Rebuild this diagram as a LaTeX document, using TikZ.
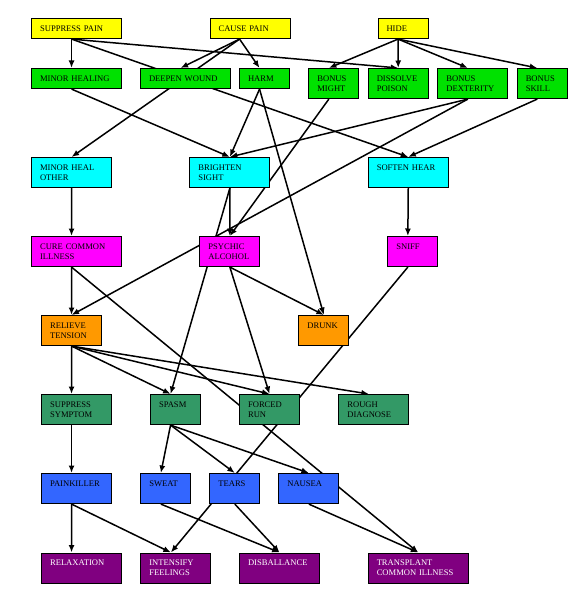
\documentclass[tikz,border=0pt]{standalone}
\usepackage{fontspec}
\setmainfont{Liberation Serif}
\usetikzlibrary{arrows.meta, backgrounds}

\definecolor{yellowbox}{RGB}{255,255,0}
\definecolor{greenbox}{RGB}{0,225,0}
\definecolor{cyanbox}{RGB}{0,255,255}
\definecolor{magentabox}{RGB}{255,0,255}
\definecolor{orangebox}{RGB}{255,153,0}
\definecolor{seabox}{RGB}{51,153,102}
\definecolor{bluebox}{RGB}{51,102,255}
\definecolor{purplebox}{RGB}{128,0,128}

\begin{document}
\begin{tikzpicture}[x=1bp, y=-1bp,
	box/.style={draw=black, line width=1.1bp, fill=#1, anchor=north west,
		align=left, inner xsep=8.5bp, inner ysep=0pt, minimum height=0pt,
		text height=12.9bp, text depth=7.1bp,
		font=\fontsize{8.6}{9.8}\selectfont},
	tall/.style={text depth=17.1bp},
	wd/.style={text width=#1bp-17bp},
	edge/.style={line width=1.5bp, -{Latex[length=7.5bp, width=6bp]}}]
\useasboundingbox (0,0) rectangle (583,599);

% row 1
\node[box=yellowbox, wd=90] (suppain) at (31,18) {SUPPRESS PAIN};
\node[box=yellowbox, wd=80] (causepain) at (209.5,18) {CAUSE PAIN};
\node[box=yellowbox, wd=50] (hide) at (377.5,18) {HIDE};

% row 2
\node[box=greenbox, wd=90] (minheal) at (31,68) {MINOR HEALING};
\node[box=greenbox, wd=90] (deepen) at (140,68) {DEEPEN WOUND};
\node[box=greenbox, wd=50] (harm) at (239,68) {HARM};
\node[box=greenbox, wd=50, tall] (bmight) at (308.3,68) {BONUS\\MIGHT};
\node[box=greenbox, wd=60, tall] (dissolve) at (367.7,68) {DISSOLVE\\POISON};
\node[box=greenbox, wd=70, tall] (bdext) at (437.3,68) {BONUS\\DEXTERITY};
\node[box=greenbox, wd=50, tall] (bskill) at (516.7,68) {BONUS\\SKILL};

% row 3
\node[box=cyanbox, wd=80, tall] (mhother) at (31,157) {MINOR HEAL\\OTHER};
\node[box=cyanbox, wd=80, tall] (brighten) at (189.3,157) {BRIGHTEN\\SIGHT};
\node[box=cyanbox, wd=80, tall] (soften) at (367.7,157) {SOFTEN HEAR};

% row 4
\node[box=magentabox, wd=90, tall] (cure) at (31,236) {CURE COMMON\\ILLNESS};
\node[box=magentabox, wd=60, tall] (psychic) at (199.3,236) {PSYCHIC\\ALCOHOL};
\node[box=magentabox, wd=50, tall] (sniff) at (387.3,236) {SNIFF};

% row 5
\node[box=orangebox, wd=60, tall] (relieve) at (41,315) {RELIEVE\\TENSION};
\node[box=orangebox, wd=50, tall] (drunk) at (298.3,315) {DRUNK};

% row 6
\node[box=seabox, wd=70, tall] (supsym) at (41,394) {SUPPRESS\\SYMPTOM};
\node[box=seabox, wd=50, tall] (spasm) at (150,394) {SPASM};
\node[box=seabox, wd=60, tall] (forced) at (239,394) {FORCED\\RUN};
\node[box=seabox, wd=70, tall] (rough) at (338.3,394) {ROUGH\\DIAGNOSE};

% row 7
\node[box=bluebox, wd=70, tall] (painkill) at (41,473) {PAINKILLER};
\node[box=bluebox, wd=50, tall] (sweat) at (140.3,473) {SWEAT};
\node[box=bluebox, wd=50, tall] (tears) at (209.3,473) {TEARS};
\node[box=bluebox, wd=60, tall] (nausea) at (278.3,473) {NAUSEA};

% row 8
\node[box=purplebox, wd=80, tall, text=white] (relax) at (41,552.5) {RELAXATION};
\node[box=purplebox, wd=70, tall, text=white] (intens) at (140.3,552.5) {INTENSIFY\\FEELINGS};
\node[box=purplebox, wd=80, tall, text=white] (disball) at (239,552.5) {DISBALLANCE};
\node[box=purplebox, wd=100, tall, text=white] (transp) at (367.7,552.5) {TRANSPLANT\\COMMON ILLNESS};

\begin{scope}[on background layer]
\fill[white] (0,0) rectangle (583,599);

\draw[edge] ([xshift=-5bp]suppain.south) -- ([xshift=-5bp]minheal.north);
\draw[edge] ([xshift=-5bp]suppain.south) -- (soften.north);
\draw[edge] ([xshift=-5bp]suppain.south) -- (dissolve.north);
\draw[edge] ([xshift=-10.5bp]causepain.south) -- ([xshift=-5bp]deepen.north);
\draw[edge] ([xshift=-10.5bp]causepain.south) -- (mhother.north);
\draw[edge] ([xshift=-10.5bp]causepain.south) -- ([xshift=-5bp]harm.north);
\draw[edge] ([xshift=-5bp]hide.south) -- ([xshift=-5bp]bmight.north);
\draw[edge] ([xshift=-5bp]hide.south) -- (dissolve.north);
\draw[edge] ([xshift=-5bp]hide.south) -- ([xshift=-5bp]bdext.north);
\draw[edge] ([xshift=-5bp]hide.south) -- ([xshift=-5bp]bskill.north);

\draw[edge] ([xshift=-5bp]minheal.south) -- (brighten.north);
\draw[edge] ([xshift=-5bp]harm.south) -- (brighten.north);
\draw[edge] ([xshift=-5bp]harm.south) -- (drunk.north);
\draw[edge] ([xshift=-5bp]bmight.south) -- (psychic.north);
\draw[edge] ([xshift=-5bp]bdext.south) -- (brighten.north);
\draw[edge] ([xshift=-5bp]bdext.south) -- (relieve.north);
\draw[edge] ([xshift=-5bp]bskill.south) -- (soften.north);

\draw[edge] (mhother.south) -- ([xshift=-5bp]cure.north);
\draw[edge] (brighten.south) -- (psychic.north);
\draw[edge] (brighten.south) -- ([xshift=-5bp]spasm.north);
\draw[edge] (soften.south) -- ([xshift=-5bp]sniff.north);

\draw[edge] ([xshift=-5bp]cure.south) -- (relieve.north);
\draw[edge] ([xshift=-5bp]cure.south) -- (transp.north);
\draw[edge] (psychic.south) -- (drunk.north);
\draw[edge] (psychic.south) -- (forced.north);
\draw[edge] ([xshift=-5bp]sniff.south) -- ([xshift=-5bp]intens.north);

\draw[edge] (relieve.south) -- ([xshift=-5bp]supsym.north);
\draw[edge] (relieve.south) -- ([xshift=-5bp]spasm.north);
\draw[edge] (relieve.south) -- (forced.north);
\draw[edge] (relieve.south) -- ([xshift=-5bp]rough.north);

\draw[edge] ([xshift=-5bp]supsym.south) -- ([xshift=-5bp]painkill.north);
\draw[edge] ([xshift=-5bp]spasm.south) -- ([xshift=-5bp]sweat.north);
\draw[edge] ([xshift=-5bp]spasm.south) -- (tears.north);
\draw[edge] ([xshift=-5bp]spasm.south) -- (nausea.north);

\draw[edge] ([xshift=-5bp]painkill.south) -- ([xshift=-10bp]relax.north);
\draw[edge] ([xshift=-5bp]painkill.south) -- ([xshift=-5bp]intens.north);
\draw[edge] ([xshift=-5bp]sweat.south) -- (disball.north);
\draw[edge] (tears.south) -- (disball.north);
\draw[edge] (nausea.south) -- (transp.north);
\end{scope}

\end{tikzpicture}
\end{document}
